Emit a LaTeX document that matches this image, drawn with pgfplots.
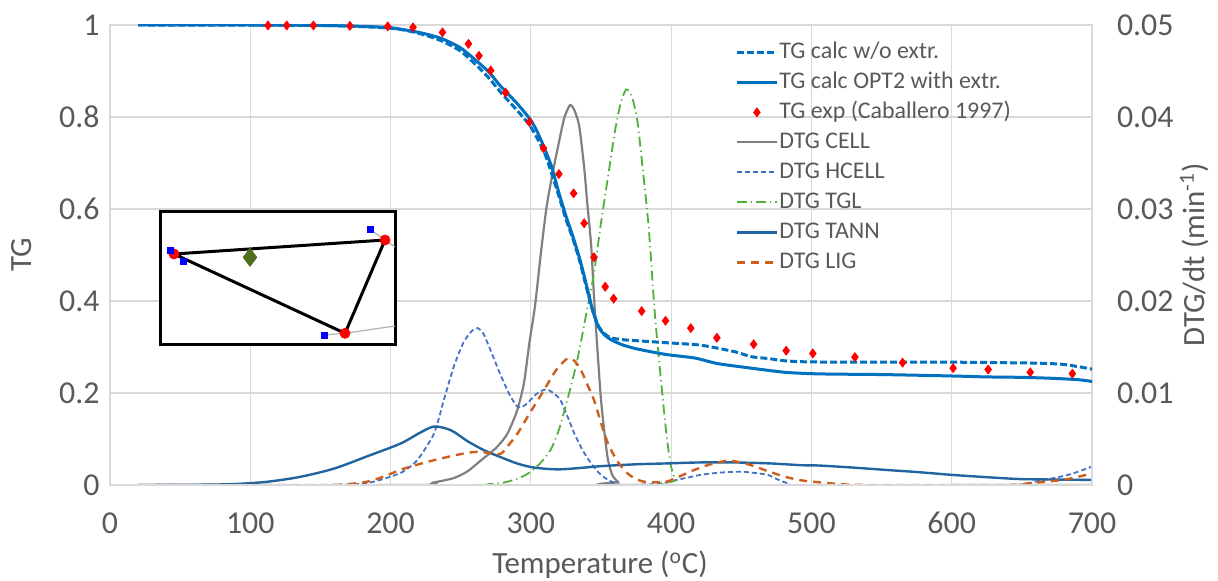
\documentclass[border=0pt]{standalone}
\usepackage{pgfplots}
\pgfplotsset{compat=1.18}
\usepackage{fontspec}
\setmainfont{Carlito}
\definecolor{tgblue}{RGB}{0,112,192}
\definecolor{tannblue}{RGB}{34,100,160}
\definecolor{hcellblue}{RGB}{68,114,196}
\definecolor{cellgray}{RGB}{128,128,128}
\definecolor{tglgreen}{RGB}{80,176,60}
\definecolor{ligorange}{RGB}{205,95,30}
\definecolor{textgray}{RGB}{89,89,89}
\definecolor{gridgray}{RGB}{217,217,217}
\definecolor{diagreen}{RGB}{80,110,30}
\tikzset{
  tgdash/.style={tgblue, line width=1.5bp, dash pattern=on 3.5bp off 1.5bp},
  tgsolid/.style={tgblue, line width=1.5bp},
  tgexp/.style={only marks, mark=diamond*, mark size=2.2bp, red, mark options={fill=red, draw=red}},
  cellst/.style={cellgray, line width=1.1bp},
  hcellst/.style={hcellblue, line width=0.9bp, dash pattern=on 2.5bp off 1.5bp},
  tglst/.style={tglgreen, line width=0.9bp, dash pattern=on 5bp off 2bp on 0.6bp off 2bp},
  tannst/.style={tannblue, line width=1.2bp},
  ligst/.style={ligorange, line width=1.2bp, dash pattern=on 4bp off 3bp},
}
\pgfplotsset{
  common/.style={
    scale only axis, width=491bp, height=230bp,
    xmin=0, xmax=700,
    major tick length=0pt,
    scaled x ticks=false, scaled y ticks=false,
    axis line style={gridgray, line width=0.6bp},
    tick label style={font=\fontsize{16}{18}\selectfont, text=textgray},
    label style={font=\fontsize{15.5}{18}\selectfont, text=textgray},
  }
}
\begin{document}
\begin{tikzpicture}
\useasboundingbox (-55bp,-48bp) rectangle (554bp,242.5bp);
% ---------- DTG axis (right) ----------
\begin{axis}[common,
  ymin=0, ymax=0.05,
  xtick={0,100,200,300,400,500,600,700},
  xticklabels={0,100,200,300,400,500,600,700},
  ytick={0,0.01,0.02,0.03,0.04,0.05},
  yticklabels={0,0.01,0.02,0.03,0.04,0.05},
  yticklabel pos=right,
  grid=major, grid style={gridgray, line width=0.6bp},
  xticklabel style={anchor=center, yshift=-19bp},
  yticklabel style={anchor=west, xshift=9bp},
  xlabel={Temperature (\textsuperscript{o}C)},
  xlabel style={at={(axis description cs:0.499,-0.174)}, anchor=center},
  ylabel={DTG/dt (min\textsuperscript{-1})},
  ylabel style={at={(axis description cs:1.104,0.5)}, anchor=center, rotate=0},
]
% DTG CELL
\addplot[cellst, smooth, tension=0.4] coordinates {
(20,0) (220,0) (230,0.00025) (245,0.00075) (255,0.0015) (265,0.00275) (275,0.004)
(283,0.0055) (290,0.008) (295,0.011) (299,0.0155) (303,0.0195) (307,0.025) (311,0.03)
(315,0.0335) (320,0.03725) (324,0.04) (328,0.0413) (331,0.04075) (334.5,0.039)
(338,0.0345) (340,0.031) (343,0.026) (345,0.0205) (347,0.01575) (350,0.00925)
(353,0.005) (355,0.0027) (358,0.0011) (362,0.00035) (366,0) (700,0)};
% DTG HCELL
\addplot[hcellst, smooth, tension=0.4] coordinates {
(20,0) (150,0) (183,0.0002) (207,0.0013) (219,0.0027) (231,0.0056) (238,0.00925)
(245,0.01285) (252,0.0155) (258,0.01675) (262,0.01705) (266,0.0165) (271,0.01475)
(276,0.01285) (279,0.01175) (285,0.00975) (290.5,0.0085) (294,0.0085) (297.6,0.0089)
(304,0.0099) (310.7,0.0104) (316,0.01) (321,0.00925) (326,0.0075) (331,0.0056)
(337,0.00375) (343,0.00235) (349,0.00125) (355,0.00055) (362,0.0001) (366,0)
(390,0.0001) (398,0.00035) (410,0.00075) (421,0.0011) (435,0.00135) (450,0.00145)
(460,0.0013) (469,0.0011) (476,0.0006) (483,0.0002) (493,0) (640,0) (659,0.00035)
(683,0.0011) (700,0.002)};
% DTG TGL
\addplot[tglst, smooth, tension=0.4] coordinates {
(20,0) (250,0) (270,0.0001) (280,0.00025) (290,0.00065) (298,0.00125) (306,0.00225)
(314,0.0038) (320,0.006) (326,0.00925) (333,0.0135) (340,0.019) (345,0.023)
(350,0.0285) (355,0.0335) (360,0.0385) (364,0.0415) (368,0.043) (372,0.04225)
(376,0.0395) (380,0.034) (384,0.028) (387,0.0215) (389,0.0175) (393,0.011)
(397,0.005) (400,0.002) (403,0.0005) (406,0) (700,0)};
% DTG TANN
\addplot[tannst, smooth, tension=0.5] coordinates {
(20,0) (60,0.000025) (88,0.0001) (112,0.00035) (136,0.0009) (160,0.0018) (183,0.0031)
(207,0.0045) (220,0.0056) (231,0.00635) (243,0.00595) (255,0.00475) (267,0.00375)
(279,0.003) (290,0.00235) (302,0.0019) (319,0.00170) (335,0.00185) (350,0.00205)
(375,0.00225) (398,0.00235) (420,0.00245) (445,0.00245) (470,0.00235) (493,0.00215)
(505,0.00212) (529,0.0019) (552,0.00165) (576,0.0014) (600,0.0011) (625,0.00085)
(648,0.00065) (670,0.0006) (700,0.00055)};
% DTG LIG
\addplot[ligst, smooth, tension=0.4] coordinates {
(20,0) (150,0) (170,0.0001) (183,0.00035) (195,0.0009) (207,0.00165) (220,0.00225)
(231,0.0027) (245,0.0032) (255,0.0035) (262,0.0036) (270,0.0035) (278.6,0.0034)
(285,0.0045) (290.5,0.0056) (300,0.008) (309.5,0.01035) (318,0.0125) (326,0.01375)
(331,0.0135) (335.7,0.0125) (340,0.011) (345,0.00925) (350,0.00675) (355,0.0045)
(362,0.0025) (369,0.00125) (375,0.00065) (381,0.00035) (390,0.0003) (397.6,0.0004)
(407,0.001) (416.7,0.00165) (428,0.00225) (440,0.00265) (448,0.0025) (457,0.00215)
(469,0.0015) (481,0.0009) (493,0.0005) (505,0.0003) (520,0.0001) (540,0) (640,0)
(655,0.0002) (670,0.0004) (683,0.00065) (700,0.00125)};
\end{axis}
% ---------- TG axis (left) ----------
\begin{axis}[common,
  ymin=0, ymax=1,
  xtick={0,100,200,300,400,500,600,700},
  xticklabels={},
  ytick={0,0.2,0.4,0.6,0.8,1},
  yticklabels={0,0.2,0.4,0.6,0.8,1},
  yticklabel style={anchor=east, xshift=-1.7bp},
  ylabel={TG},
  ylabel style={at={(axis description cs:-0.0896,0.5)}, anchor=center},
  legend style={draw=none, fill=none, at={(0.6365,0.9696)}, anchor=north west,
    font=\fontsize{12}{14}\selectfont, text=textgray, inner sep=0pt, row sep=2bp,
    nodes={inner sep=0.5bp, text height=9bp, text depth=3bp}},
  legend cell align=left,
  legend image code/.code={\draw[mark repeat=2,mark phase=2,#1] plot coordinates {(0bp,0bp) (10bp,0bp) (20bp,0bp)};},
]
\addplot[tgdash, smooth, tension=0.4] coordinates {
(20,1) (150,0.999) (200,0.993) (220,0.982) (236,0.966) (250,0.943) (262,0.91)
(270,0.885) (279,0.852) (290,0.815) (300,0.778) (310,0.72) (320,0.628) (325,0.578)
(330,0.535) (335,0.485) (340,0.425) (344,0.38) (348,0.347) (352,0.33) (357,0.32)
(365,0.316) (374,0.314) (398,0.309) (421,0.304) (445,0.29) (457,0.279) (469,0.275)
(481,0.27) (493,0.268) (517,0.267) (529,0.267) (600,0.267) (659,0.265) (680,0.262)
(700,0.252)};
\addlegendentry{TG calc w/o extr.}
\addplot[tgsolid, smooth, tension=0.4] coordinates {
(20,1) (100,1) (150,0.999) (180,0.997) (200,0.994) (220,0.984) (236,0.971) (250,0.95)
(262,0.92) (270,0.898) (279,0.865) (290,0.83) (300,0.793) (305,0.765) (310,0.73)
(315,0.69) (320,0.635) (325,0.585) (330,0.54) (335,0.49) (340,0.43) (344,0.38)
(348,0.345) (352,0.328) (357,0.316) (365,0.305) (374,0.297) (385,0.29) (398,0.283)
(417,0.276) (433,0.264) (457,0.254) (481,0.245) (500,0.242) (517,0.241) (552,0.24)
(600,0.237) (624,0.235) (650,0.234) (671,0.232) (690,0.229) (700,0.225)};
\addlegendentry{TG calc OPT2 with extr.}
\addplot[tgexp] coordinates {
(112.6,0.999) (126,0.999) (145,0.999) (171,0.998) (198,0.997) (216,0.995) (237,0.984)
(255.5,0.959) (263,0.933) (271.4,0.901) (282,0.853) (299,0.789) (309,0.732) (320,0.676)
(330.5,0.634) (338,0.569) (345,0.495) (353,0.431) (359,0.405) (379,0.378) (396,0.357)
(414,0.341) (432.6,0.32) (458.8,0.306) (482,0.292) (501,0.286) (531,0.278) (565,0.266)
(601,0.254) (626,0.251) (656,0.245) (686,0.242)};
\addlegendentry{TG exp (Caballero 1997)}
\addlegendimage{cellst}
\addlegendentry{DTG CELL}
\addlegendimage{hcellst}
\addlegendentry{DTG HCELL}
\addlegendimage{tglst}
\addlegendentry{DTG TGL}
\addlegendimage{tannst}
\addlegendentry{DTG TANN}
\addlegendimage{ligst}
\addlegendentry{DTG LIG}
\end{axis}
% ---------- inset ----------
\begin{axis}[scale only axis, width=117.5bp, height=66.5bp, at={(25bp,70bp)}, anchor=south west,
  xmin=0, xmax=235, ymin=0, ymax=133, xtick=\empty, ytick=\empty,
  axis line style={black, line width=1.5bp},
  axis background/.style={fill=white}]
\addplot[gray!60, line width=0.6bp] coordinates {(164,10) (185,11.7) (235,19)};
\addplot[gray!60, line width=0.6bp] coordinates {(210,115.7) (225,105) (235,98)};
\addplot[black, line width=1.5bp] coordinates {(14,91) (225,105) (185,11.7) (14,91)};
\addplot[only marks, mark=*, mark size=2.5bp, red, mark options={fill=red}] coordinates {(14,91) (225,105) (185,11.7)};
\addplot[only marks, mark=square*, mark size=1.5bp, blue, mark options={fill=blue}] coordinates {(10,95) (23,84) (210,115.7) (164,10)};
\addplot[only marks, mark=diamond*, mark size=4.5bp, diagreen, mark options={fill=diagreen}] coordinates {(90,87.7)};
\end{axis}
\end{tikzpicture}
\end{document}
